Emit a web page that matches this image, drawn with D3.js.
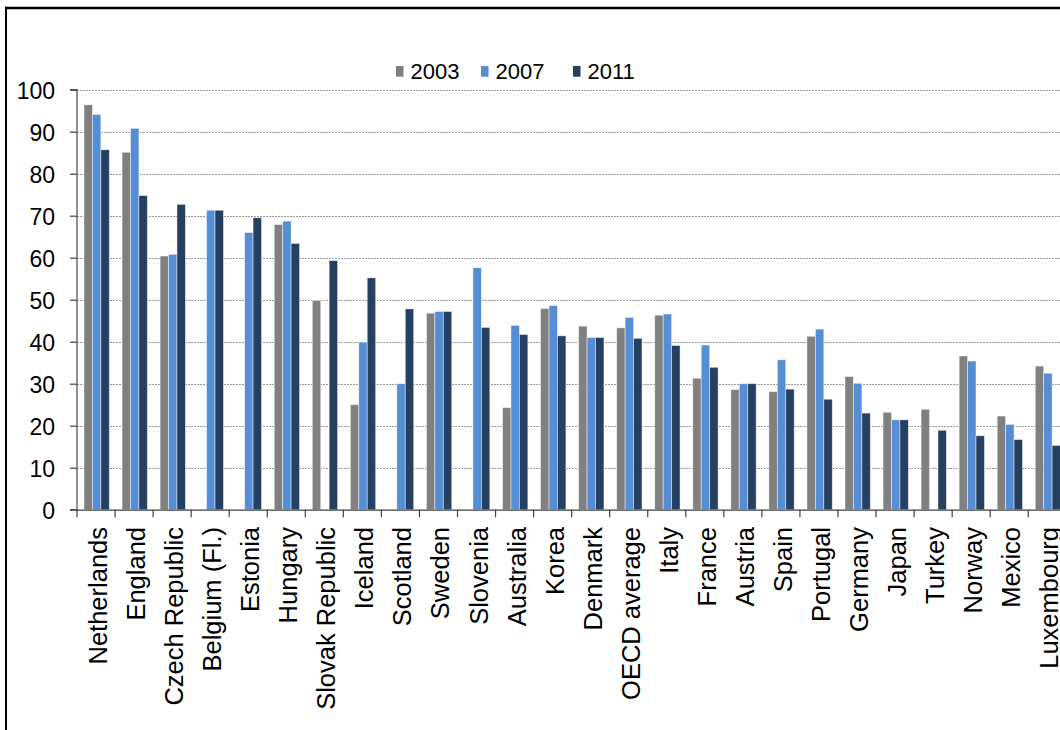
<!DOCTYPE html>
<html>
<head>
<meta charset="utf-8">
<script src="https://cdn.jsdelivr.net/npm/d3@7"></script>
<style>
  html, body { margin: 0; padding: 0; background: #ffffff; }
  svg { display: block; }
  text { font-family: "Liberation Sans", Arial, sans-serif; fill: #000000; }
</style>
</head>
<body>
<svg id="chart" width="1060" height="730"></svg>
<script>
// Countries, ordered as in the chart
const categories = [
  "Netherlands", "England", "Czech Republic", "Belgium (Fl.)", "Estonia",
  "Hungary", "Slovak Republic", "Iceland", "Scotland", "Sweden",
  "Slovenia", "Australia", "Korea", "Denmark", "OECD average",
  "Italy", "France", "Austria", "Spain", "Portugal",
  "Germany", "Japan", "Turkey", "Norway", "Mexico", "Luxembourg"
];

// Series values (null = no data for that year)
const values2003 = [
  96.4, 85.1, 60.4, null, null,
  67.9, 49.8, 25.0, null, 46.8,
  null, 24.3, 47.9, 43.7, 43.3,
  46.3, 31.3, 28.6, 28.1, 41.3,
  31.7, 23.2, 23.9, 36.6, 22.3, 34.2
];
const values2007 = [
  94.1, 90.8, 60.8, 71.3, 66.0,
  68.7, null, 39.9, 30.0, 47.2,
  57.6, 43.9, 48.6, 41.0, 45.8,
  46.6, 39.2, 30.0, 35.7, 43.0,
  30.1, 21.4, null, 35.4, 20.3, 32.5
];
const values2011 = [
  85.7, 74.8, 72.7, 71.3, 69.5,
  63.4, 59.3, 55.2, 47.8, 47.2,
  43.4, 41.7, 41.4, 41.0, 40.8,
  39.1, 33.9, 30.0, 28.7, 26.3,
  23.0, 21.4, 18.9, 17.6, 16.7, 15.3
];

const seriesNames = ["2003", "2007", "2011"];
const seriesValues = [values2003, values2007, values2011];
const seriesColors = ["#808080", "#558ed5", "#254061"];

const yTicks = [0, 10, 20, 30, 40, 50, 60, 70, 80, 90, 100];

const svg = d3.select("#chart");

// Plot geometry
const plotLeft = 77, plotTop = 89.7, plotBottom = 509.7;
const catWidth = 38.05;
const plotRight = plotLeft + catWidth * categories.length;

const y = d3.scaleLinear().domain([0, 100]).range([plotBottom, plotTop]);
const x0 = d3.scaleBand().domain(categories).range([plotLeft, plotRight]).padding(0);
const x1 = d3.scaleBand().domain(seriesNames).range([7, 7 + 25.3]).padding(0);
const color = d3.scaleOrdinal().domain(seriesNames).range(seriesColors);

// Outer frame (right and bottom edges fall outside the canvas)
svg.append("line").attr("x1", 5).attr("x2", 1060).attr("y1", 7.9).attr("y2", 7.9)
  .attr("stroke", "#000").attr("stroke-width", 2.5);
svg.append("line").attr("x1", 6).attr("x2", 6).attr("y1", 6.7).attr("y2", 730)
  .attr("stroke", "#000").attr("stroke-width", 2);

// Horizontal dotted gridlines
svg.append("g").selectAll("line")
  .data(yTicks.filter(d => d > 0))
  .join("line")
  .attr("x1", plotLeft).attr("x2", 1060)
  .attr("y1", d => Math.round(y(d)) + 0.5).attr("y2", d => Math.round(y(d)) + 0.5)
  .attr("stroke", "#9a9a9a").attr("stroke-width", 1)
  .attr("stroke-dasharray", "2,1");

// Bars
const rows = categories.map((c, i) => ({
  category: c,
  bars: seriesNames.map((s, k) => ({ series: s, value: seriesValues[k][i] }))
}));

const groups = svg.append("g").selectAll("g")
  .data(rows)
  .join("g")
  .attr("transform", d => `translate(${x0(d.category)},0)`);

groups.selectAll("rect")
  .data(d => d.bars.filter(b => b.value !== null))
  .join("rect")
  .attr("x", d => x1(d.series))
  .attr("y", d => y(d.value))
  .attr("width", x1.bandwidth())
  .attr("height", d => y(0) - y(d.value))
  .attr("fill", d => color(d.series))
  .attr("stroke", "rgba(255,255,255,0.55)")
  .attr("stroke-width", 0.8);

// Y axis
const yAxis = d3.axisLeft(y).tickValues(yTicks).tickSize(7).tickPadding(15);
const gy = svg.append("g")
  .attr("transform", `translate(${plotLeft},0)`)
  .call(yAxis);
gy.select(".domain").attr("stroke", "#595959").attr("stroke-width", 1.3)
  .attr("d", `M-7,${plotTop}H0V${plotBottom}H-7`);
gy.selectAll(".tick line").attr("stroke", "#404040").attr("stroke-width", 1.2);
gy.selectAll(".tick text")
  .style("font-family", "'Liberation Sans', Arial, sans-serif")
  .style("font-size", "23px")
  .attr("fill", "#000")
  .attr("dy", "0.4em");

// X axis: category boundaries as tick marks
const boundaries = d3.range(categories.length + 1).map(i => plotLeft + i * catWidth);
svg.append("line")
  .attr("x1", plotLeft).attr("x2", 1060)
  .attr("y1", plotBottom + 0.5).attr("y2", plotBottom + 0.5)
  .attr("stroke", "#404040").attr("stroke-width", 1.3);
svg.append("g").selectAll("line")
  .data(boundaries)
  .join("line")
  .attr("x1", d => d).attr("x2", d => d)
  .attr("y1", plotBottom).attr("y2", plotBottom + 7.5)
  .attr("stroke", "#404040").attr("stroke-width", 1.2);

// Category labels, rotated
svg.append("g").selectAll("text")
  .data(categories)
  .join("text")
  .attr("transform", d => `translate(${x0(d) + x0.bandwidth() / 2 + 11},527) rotate(-90)`)
  .attr("text-anchor", "end")
  .style("font-size", "25.5px")
  .text(d => d);

// Legend
const legendX = [396, 481, 573];
const legend = svg.append("g").selectAll("g")
  .data(seriesNames)
  .join("g")
  .attr("transform", (d, i) => `translate(${legendX[i]},0)`);
legend.append("rect")
  .attr("x", 0).attr("y", 66).attr("width", 7.5).attr("height", 10.7)
  .attr("fill", d => color(d));
legend.append("text")
  .attr("x", 14.5).attr("y", 79)
  .style("font-size", "22px")
  .text(d => d);
</script>
</body>
</html>
